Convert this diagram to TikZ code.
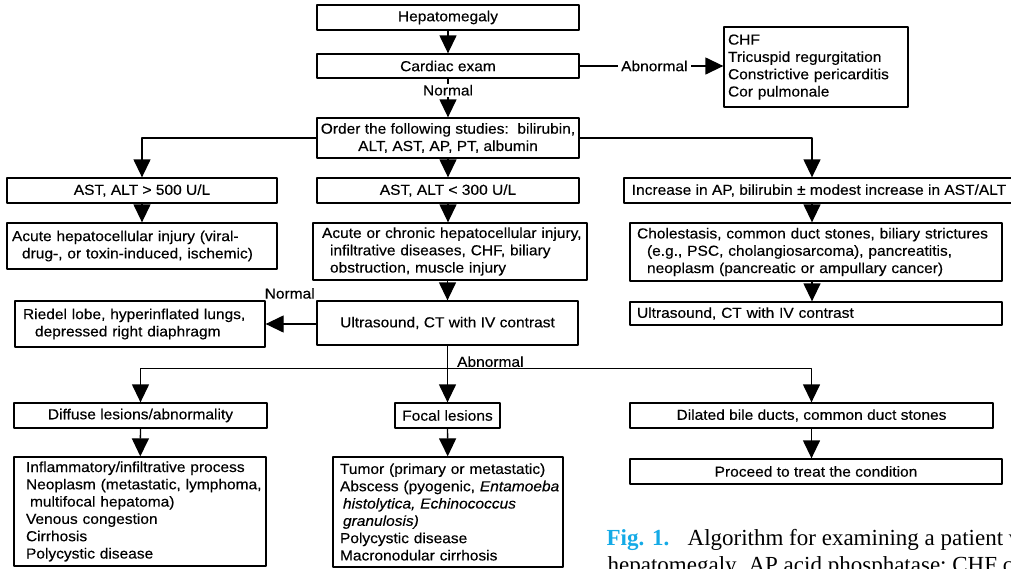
\documentclass[tikz,border=0pt]{standalone}
\usepackage{fontspec}
\setmainfont{Liberation Sans}[FakeStretch=1.07, FakeBold=0.3]
\newfontfamily\capfont{Liberation Serif}
\usetikzlibrary{arrows.meta}
\definecolor{figblue}{RGB}{20,170,230}
\newcommand{\indt}[1]{\hspace*{#1pt}}
\begin{document}
\begin{tikzpicture}[x=1pt,y=-1pt, font=\fontsize{14.5}{17.3}\selectfont, line join=round, line width=1.3pt,
	box/.style={draw, inner sep=0pt, align=center},
	lbox/.style={draw, inner xsep=2pt, inner ysep=0pt, align=left},
	arr/.style={-{Triangle[length=18pt,width=17pt]}},
	lbl/.style={fill=white, inner xsep=3pt, inner ysep=1pt}]
	\useasboundingbox (0,0) rectangle (1011,568);
	%\draw[color=gray!50,dashed,step=50] (0,0) grid (1011,568);
	% top
	\node[box, minimum width=262pt, minimum height=25pt] (hep) at (448,17.5) {Hepatomegaly};
	\node[box, minimum width=262pt, minimum height=24pt] (card) at (448,66) {Cardiac exam};
	\node[lbox, text width=180pt, minimum height=80pt] (chf) at (816,67) {\indt{2}CHF\\\indt{2}Tricuspid regurgitation\\\indt{2}Constrictive pericarditis\\\indt{2}Cor pulmonale};
	\node[box, minimum width=262pt, minimum height=40pt] (order) at (448,138) {Order the following studies:\ \ bilirubin,\\ALT, AST, AP, PT, albumin};
	% three columns
	\node[box, minimum width=270pt, minimum height=25pt] (ast5) at (142,190.5) {AST, ALT > 500 U/L};
	\node[box, minimum width=262pt, minimum height=25pt] (ast3) at (448,190.5) {AST, ALT < 300 U/L};
	\node[box, minimum width=390pt, minimum height=25pt] (incr) at (819,190.5) {Increase in AP, bilirubin ± modest increase in AST/ALT};
	\node[lbox, text width=266pt, minimum height=46pt] (acute) at (142,246) {\indt{3}Acute hepatocellular injury (viral-\\\indt{13}drug-, or toxin-induced, ischemic)};
	\node[lbox, text width=270pt, minimum height=57pt] (acor) at (450,251.5) {\indt{7}Acute or chronic hepatocellular injury,\\\indt{15}infiltrative diseases, CHF, biliary\\\indt{15}obstruction, muscle injury};
	\node[lbox, text width=368pt, minimum height=58pt] (chol) at (816,252) {\indt{5}Cholestasis, common duct stones, biliary strictures\\\indt{15}(e.g., PSC, cholangiosarcoma), pancreatitis,\\\indt{15}neoplasm (pancreatic or ampullary cancer)};
	\node[lbox, text width=246pt, minimum height=46pt] (riedel) at (140,324) {\indt{6}Riedel lobe, hyperinflated lungs,\\\indt{18}depressed right diaphragm};
	\node[box, minimum width=261pt, minimum height=44pt] (us) at (447.5,323) {Ultrasound, CT with IV contrast};
	\node[lbox, text width=368pt, minimum height=23pt] (usr) at (816,313.5) {\indt{5}Ultrasound, CT with IV contrast};
	% imaging results
	\node[box, minimum width=253pt, minimum height=25pt] (diff) at (140.5,415.5) {Diffuse lesions/abnormality};
	\node[box, minimum width=105pt, minimum height=25pt] (focal) at (447.5,415.5) {Focal lesions};
	\node[box, minimum width=363pt, minimum height=25pt] (dil) at (811.5,415.5) {Dilated bile ducts, common duct stones};
	\node[lbox, text width=248pt, minimum height=109pt] (infl) at (140,511.5) {\indt{10}Inflammatory/infiltrative process\\\indt{10}Neoplasm (metastatic, lymphoma,\\\indt{14}multifocal hepatoma)\\\indt{10}Venous congestion\\\indt{10}Cirrhosis\\\indt{10}Polycystic disease};
	\node[lbox, text width=226pt, minimum height=110pt] (tumor) at (448,512) {\indt{5}Tumor (primary or metastatic)\\\indt{5}Abscess (pyogenic, \textit{Entamoeba}\\\indt{8}\textit{histolytica, Echinococcus}\\\indt{8}\textit{granulosis)}\\\indt{5}Polycystic disease\\\indt{5}Macronodular cirrhosis};
	\node[box, minimum width=372pt, minimum height=25pt] (proc) at (816,471.5) {Proceed to treat the condition};
	% connectors
	\coordinate (rcol) at (812,138);
	\draw[arr] (hep) -- (card);
	\draw[arr] (card) -- node[lbl, pos=0.3]{Normal} (order);
	\draw[arr] (card.east) -- node[lbl, pos=0.52]{Abnormal} (card.east -| chf.west);
	\draw[arr] (order.west) -| (ast5.north);
	\draw[arr] (order.east) -| (incr.north -| rcol);
	\draw[arr] (order) -- (ast3);
	\draw[arr] (ast5) -- (acute);
	\draw[arr] (ast3.south) -- (ast3.south |- acor.north);
	\draw[arr] (incr.south -| rcol) -- (chol.north -| rcol);
	\draw[arr] (chol.south -| rcol) -- (usr.north -| rcol);
	\draw[arr] (us.north |- acor.south) -- (us.north);
	\draw[arr] (us.west |- riedel) -- (riedel.east);
	\node[anchor=south east, inner sep=1pt] (nrm) at (us.north west) {Normal};
	\path (us.south) ++(0,23) coordinate (split);
	\draw (us.south) -- (split) node[pos=1, above right, xshift=8pt, inner sep=1pt] (abn) {Abnormal};
	\draw[arr] (split) -| (diff.north);
	\draw[arr] (split) -- (focal.north);
	\draw[arr] (split) -| (dil.north);
	\draw[arr] (diff) -- (infl);
	\draw[arr] (focal) -- (tumor);
	\draw[arr] (dil.south) -- (dil.south |- proc.north);
	% caption
	\node[anchor=base west, inner sep=0pt, font=\capfont\fontsize{23}{27}\selectfont] (cap1) at (606,545) {\textcolor{figblue}{\textbf{Fig. 1.}}\hspace{0.8em}Algorithm for examining a patient with};
	\node[anchor=base west, inner sep=0pt, font=\capfont\fontsize{23}{27}\selectfont] (cap2) at (607,572) {hepatomegaly. AP acid phosphatase; CHF congestive};
\end{tikzpicture}
\end{document}
